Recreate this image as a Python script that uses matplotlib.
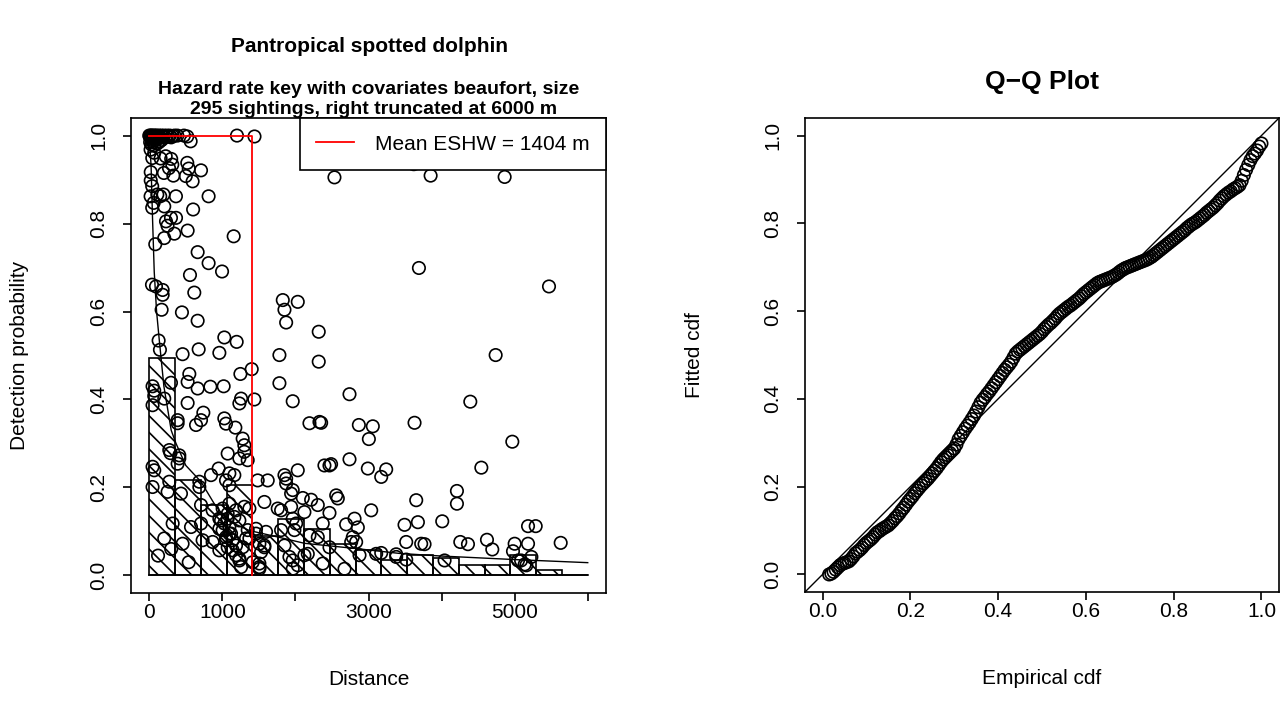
import matplotlib
matplotlib.use("Agg")
import matplotlib.pyplot as plt
import numpy as np

plt.rcParams["font.family"] = ["Liberation Sans", "DejaVu Sans"]
plt.rcParams["hatch.linewidth"] = 1.2

# ---- detection function panel -------------------------------------------
TRUNC = 6000
ESHW = 1404
N_SIGHT = 295

bin_edges = np.linspace(0, TRUNC, 18)
bin_height = [0.495, 0.216, 0.160, 0.205, 0.089, 0.128, 0.105, 0.071, 0.058,
              0.035, 0.047, 0.040, 0.023, 0.023, 0.046, 0.012, 0.0]

curve_dist = [0, 25, 45, 68, 100, 137, 200, 300, 366, 500, 708, 900, 1068,
              1370, 1767, 2123, 2832, 3425, 4000, 5000, 6000]
curve_prob = [1.0, 0.93, 0.81, 0.69, 0.60, 0.535, 0.43, 0.33, 0.30, 0.25, 0.213,
              0.16, 0.125, 0.102, 0.087, 0.073, 0.061, 0.05, 0.044, 0.036, 0.029]

dist_m = [
    # near the trackline, p ~ 1
    0, 8, 15, 22, 30, 38, 45, 55, 65, 75, 85, 95, 105, 120, 135, 150, 165, 180,
    200, 220, 240, 260, 280, 300, 320, 345, 384, 475, 520, 566, 1200, 1440,
    12, 28, 50, 70, 90, 110, 140, 170,
    18, 41, 20, 20, 40, 68, 155, 225, 300, 315, 270, 200, 330, 520, 540, 500,
    593, 708, 110, 150, 195, 365, 812, 18, 60, 40, 205, 600, 366, 297, 229, 250,
    525, 1155, 205, 343, 82, 662, 812, 996, 557,
    # mid range probabilities
    37, 92, 183, 183, 616, 169, 447, 662, 1027, 1196, 128, 146, 456, 676, 959,
    1402, 1247, 548, 525, 45, 68, 297, 662, 836, 1018, 68, 205, 45, 525, 1256,
    1233, 1438, 388, 388, 740, 708, 1027, 1050, 640, 1178,
    # low probabilities, short distances
    1278, 1301, 1301, 1233, 1347, 1073, 274, 290, 411, 45, 68, 949, 845, 1096,
    1164, 1050, 1096, 685, 685, 274, 45, 251, 434, 708, 867, 1004, 1096, 1073,
    1187, 1164, 1233, 1301, 1370, 320, 571, 708, 959, 1027, 1096, 959, 1119,
    1050, 1141, 1187, 1278, 1347, 1370, 205, 456, 730, 1233, 1256, 1415, 1507,
    411, 388, 1073, 1141, 1187, 1233, 1324, 982, 1073, 1004, 1096, 867, 959,
    1050, 120, 300, 540,
    # 1500 - 3000 m
    1781, 2319, 1781, 1963, 2740, 2192, 2329, 2352, 2868, 3059, 3005, 3630,
    2397, 2466, 2488, 2740, 2991, 3242, 3174, 2032, 1850, 1873, 1963, 1941,
    2101, 2215, 2306, 2558, 2580, 3653, 3037, 3493, 3676, 3516, 3721, 3767,
    2466, 1575, 1758, 1804, 1484, 1621, 1873, 1963, 2010, 2374, 2694, 2809,
    2854, 2785, 2763, 2831, 1461, 1598, 1575, 1507, 1986, 2192, 2306, 2466,
    1918, 1963, 2032, 1963, 2123, 2169, 2374, 2672, 2877, 3105, 3174, 3379,
    1507, 1507, 2123, 1941, 1804, 1850, 1461, 1575, 1530,
    # far field
    2534, 3850, 3620, 3690, 1827, 2032, 1850, 1873, 2319, 4863, 5470, 4740,
    4393, 4968, 4544, 4210, 4210, 4009, 5183, 5288, 4256, 4361, 4621, 4694,
    5000, 4977, 5183, 5630, 4041, 5046, 5137, 5229, 3379, 3516, 5088, 5160,
]
det_prob = [
    1.0, 0.998, 1.0, 0.995, 1.0, 0.99, 1.0, 0.997, 1.0, 0.993, 1.0, 0.996, 1.0,
    0.998, 1.0, 0.995, 1.0, 0.998, 1.0, 0.996, 1.0, 0.998, 1.0, 0.996, 0.999,
    1.0, 1.0, 1.0, 0.998, 0.987, 1.0, 0.998,
    0.985, 0.98, 0.985, 0.978, 0.99, 0.982, 0.986, 0.99,
    0.968, 0.949, 0.917, 0.898, 0.885, 0.961, 0.948, 0.953, 0.947, 0.934, 0.926,
    0.915, 0.909, 0.938, 0.925, 0.908, 0.896, 0.921, 0.866, 0.862, 0.866, 0.862,
    0.862, 0.862, 0.847, 0.836, 0.839, 0.832, 0.813, 0.813, 0.805, 0.795, 0.784,
    0.771, 0.767, 0.777, 0.753, 0.735, 0.71, 0.691, 0.683,
    0.661, 0.657, 0.649, 0.638, 0.643, 0.604, 0.598, 0.579, 0.541, 0.531, 0.534,
    0.513, 0.503, 0.514, 0.506, 0.469, 0.458, 0.458, 0.44, 0.43, 0.42, 0.438,
    0.425, 0.429, 0.43, 0.408, 0.402, 0.387, 0.392, 0.402, 0.391, 0.4, 0.353,
    0.346, 0.37, 0.353, 0.357, 0.345, 0.342, 0.336,
    0.311, 0.296, 0.281, 0.266, 0.262, 0.277, 0.285, 0.278, 0.266, 0.247, 0.239,
    0.243, 0.228, 0.232, 0.228, 0.216, 0.205, 0.213, 0.201, 0.213, 0.201, 0.19,
    0.186, 0.16, 0.148, 0.152, 0.163, 0.14, 0.148, 0.133, 0.125, 0.156, 0.152,
    0.118, 0.11, 0.118, 0.129, 0.118, 0.11, 0.106, 0.095, 0.087, 0.08, 0.068,
    0.064, 0.103, 0.084, 0.084, 0.072, 0.08, 0.038, 0.019, 0.03, 0.019,
    0.273, 0.254, 0.064, 0.057, 0.046, 0.034, 0.084, 0.125, 0.129, 0.103, 0.095,
    0.076, 0.057, 0.08, 0.045, 0.06, 0.03,
    0.501, 0.486, 0.437, 0.396, 0.412, 0.346, 0.349, 0.347, 0.342, 0.339, 0.31,
    0.347, 0.25, 0.25, 0.253, 0.264, 0.243, 0.241, 0.224, 0.239, 0.228, 0.22,
    0.194, 0.186, 0.176, 0.172, 0.16, 0.182, 0.175, 0.171, 0.148, 0.115, 0.121,
    0.076, 0.072, 0.071, 0.142, 0.167, 0.152, 0.148, 0.216, 0.216, 0.209, 0.129,
    0.118, 0.118, 0.116, 0.129, 0.109, 0.087, 0.076, 0.076, 0.106, 0.099, 0.064,
    0.072, 0.103, 0.091, 0.087, 0.064, 0.042, 0.034, 0.023, 0.015, 0.046, 0.049,
    0.027, 0.015, 0.046, 0.049, 0.051, 0.042, 0.027, 0.015, 0.144, 0.156, 0.103,
    0.068, 0.095, 0.068, 0.053,
    0.905, 0.909, 0.935, 0.699, 0.626, 0.622, 0.604, 0.575, 0.554, 0.906, 0.657,
    0.501, 0.395, 0.304, 0.245, 0.192, 0.163, 0.123, 0.112, 0.112, 0.076, 0.071,
    0.081, 0.059, 0.072, 0.055, 0.072, 0.074, 0.034, 0.034, 0.025, 0.042, 0.048,
    0.036, 0.034, 0.023,
]

# ---- Q-Q panel -----------------------------------------------------------
emp_cdf = [
    0.015, 0.020, 0.025, 0.030, 0.035, 0.040, 0.045, 0.050, 0.055, 0.060,
    0.065, 0.070, 0.075, 0.080, 0.085, 0.090, 0.095, 0.100, 0.105, 0.110,
    0.115, 0.120, 0.125, 0.130, 0.135, 0.140, 0.145, 0.150, 0.155, 0.160,
    0.165, 0.170, 0.175, 0.180, 0.185, 0.190, 0.195, 0.200, 0.205, 0.210,
    0.215, 0.220, 0.225, 0.230, 0.235, 0.240, 0.245, 0.250, 0.255, 0.260,
    0.265, 0.270, 0.275, 0.280, 0.285, 0.290, 0.295, 0.300, 0.305, 0.310,
    0.315, 0.320, 0.325, 0.330, 0.335, 0.340, 0.345, 0.350, 0.355, 0.360,
    0.365, 0.370, 0.375, 0.380, 0.385, 0.390, 0.395, 0.400, 0.405, 0.410,
    0.415, 0.420, 0.425, 0.430, 0.435, 0.440, 0.445, 0.450, 0.455, 0.460,
    0.465, 0.470, 0.475, 0.480, 0.485, 0.490, 0.495, 0.500, 0.505, 0.510,
    0.515, 0.520, 0.525, 0.530, 0.535, 0.540, 0.545, 0.550, 0.555, 0.560,
    0.565, 0.570, 0.575, 0.580, 0.585, 0.590, 0.595, 0.600, 0.605, 0.610,
    0.615, 0.620, 0.625, 0.630, 0.635, 0.640, 0.645, 0.650, 0.655, 0.660,
    0.665, 0.670, 0.675, 0.680, 0.685, 0.690, 0.695, 0.700, 0.705, 0.710,
    0.715, 0.720, 0.725, 0.730, 0.735, 0.740, 0.745, 0.750, 0.755, 0.760,
    0.765, 0.770, 0.775, 0.780, 0.785, 0.790, 0.795, 0.800, 0.805, 0.810,
    0.815, 0.820, 0.825, 0.830, 0.835, 0.840, 0.845, 0.850, 0.855, 0.860,
    0.865, 0.870, 0.875, 0.880, 0.885, 0.890, 0.895, 0.900, 0.905, 0.910,
    0.915, 0.920, 0.925, 0.930, 0.935, 0.940, 0.945, 0.950, 0.955, 0.960,
    0.965, 0.970, 0.975, 0.980, 0.985, 0.990, 0.995, 1.000,
]
fitted_cdf = [
    0.000, 0.002, 0.006, 0.011, 0.016, 0.021, 0.024, 0.026, 0.028, 0.030,
    0.035, 0.041, 0.048, 0.052, 0.056, 0.061, 0.067, 0.072, 0.076, 0.080,
    0.085, 0.091, 0.096, 0.099, 0.103, 0.106, 0.109, 0.112, 0.117, 0.122,
    0.128, 0.133, 0.139, 0.146, 0.152, 0.159, 0.166, 0.172, 0.178, 0.185,
    0.191, 0.197, 0.203, 0.208, 0.213, 0.218, 0.224, 0.230, 0.236, 0.242,
    0.249, 0.256, 0.262, 0.267, 0.272, 0.277, 0.282, 0.287, 0.296, 0.308,
    0.316, 0.324, 0.332, 0.339, 0.346, 0.354, 0.362, 0.371, 0.381, 0.391,
    0.398, 0.404, 0.411, 0.417, 0.424, 0.431, 0.438, 0.445, 0.452, 0.459,
    0.466, 0.472, 0.478, 0.485, 0.494, 0.503, 0.508, 0.512, 0.516, 0.520,
    0.524, 0.528, 0.532, 0.536, 0.540, 0.544, 0.548, 0.553, 0.559, 0.564,
    0.569, 0.573, 0.578, 0.583, 0.589, 0.594, 0.598, 0.602, 0.606, 0.610,
    0.613, 0.617, 0.621, 0.625, 0.629, 0.634, 0.639, 0.643, 0.647, 0.651,
    0.655, 0.659, 0.663, 0.666, 0.668, 0.670, 0.672, 0.674, 0.676, 0.678,
    0.681, 0.684, 0.688, 0.692, 0.695, 0.698, 0.700, 0.702, 0.704, 0.706,
    0.708, 0.710, 0.712, 0.714, 0.716, 0.718, 0.721, 0.724, 0.728, 0.732,
    0.736, 0.740, 0.744, 0.748, 0.752, 0.756, 0.760, 0.764, 0.768, 0.772,
    0.776, 0.780, 0.784, 0.789, 0.793, 0.797, 0.800, 0.803, 0.807, 0.811,
    0.815, 0.819, 0.824, 0.828, 0.832, 0.836, 0.841, 0.846, 0.852, 0.857,
    0.862, 0.866, 0.870, 0.873, 0.877, 0.880, 0.883, 0.887, 0.897, 0.910,
    0.922, 0.933, 0.944, 0.953, 0.959, 0.966, 0.975, 0.982,
]

FS = 15
MARK = dict(s=80, facecolors="none", edgecolors="black", linewidths=1.2)


def _style(ax):
    for sp in ax.spines.values():
        sp.set_linewidth(1.2)
    ax.tick_params(direction="out", length=5.5, width=1.2, labelsize=FS, pad=2)
    ax.tick_params(axis="y", pad=11)
    for lab in ax.get_yticklabels():
        lab.set_rotation(90)
        lab.set_va("center")


def px(x, y):
    return x / 1288, 1 - y / 719


fig = plt.figure(figsize=(12.88, 7.19), dpi=100)

# detection function
ax = fig.add_axes([131 / 1288, 1 - 593 / 719, 475 / 1288, 475 / 719])
ax.bar(bin_edges[:-1], bin_height, width=np.diff(bin_edges), align="edge",
       fill=False, hatch="\\\\", edgecolor="black", linewidth=1.2)
ax.plot([0, TRUNC], [0, 0], color="black", lw=1.2)
ax.plot(curve_dist, curve_prob, color="black", lw=1.0)
ax.scatter(dist_m, det_prob, **MARK)
ax.plot([0, ESHW, ESHW], [1, 1, 0], color="red", lw=1.3,
        label=f"Mean ESHW = {ESHW} m")
ax.set_xlim(-250, 6250)
ax.set_ylim(-0.04, 1.04)
ax.set_xticks(np.arange(0, 7000, 1000))
ax.set_xticklabels(["0", "1000", "", "3000", "", "5000", ""])
ax.set_yticks(np.arange(0, 1.01, 0.2))
ax.set_yticklabels([f"{v:.1f}" for v in np.arange(0, 1.01, 0.2)])
_style(ax)
leg = ax.legend(loc="upper right", fontsize=FS, borderaxespad=0, fancybox=False,
                framealpha=1, edgecolor="black", handlelength=1.8,
                borderpad=0.8, handletextpad=1.0)
leg.get_frame().set_linewidth(1.2)
leg.set_zorder(5)
ax.text(0.5, -0.182, "Distance", transform=ax.transAxes, ha="center",
        va="center", fontsize=FS)
ax.text(-0.234, 0.5, "Detection probability", transform=ax.transAxes,
        ha="center", va="center", rotation=90, fontsize=FS)

fig.text(*px(369, 47), "Pantropical spotted dolphin", ha="center", va="center",
         fontsize=15, fontweight="bold")
fig.text(*px(369, 89), "Hazard rate key with covariates beaufort, size",
         ha="center", va="center", fontsize=14, fontweight="bold")
fig.text(*px(374, 110), f"{N_SIGHT} sightings, right truncated at {TRUNC} m",
         ha="center", va="center", fontsize=14, fontweight="bold")

# Q-Q plot
ax2 = fig.add_axes([805 / 1288, 1 - 592 / 719, 474 / 1288, 474 / 719])
ax2.axline((0, 0), slope=1, color="black", lw=1.0)
ax2.scatter(emp_cdf, fitted_cdf, **MARK)
ax2.set_xlim(-0.04, 1.04)
ax2.set_ylim(-0.04, 1.04)
ticks = np.arange(0, 1.01, 0.2)
ax2.set_xticks(ticks)
ax2.set_xticklabels([f"{v:.1f}" for v in ticks])
ax2.set_yticks(ticks)
ax2.set_yticklabels([f"{v:.1f}" for v in ticks])
_style(ax2)
ax2.text(0.5, 1 + 36 / 474, "Q\u2212Q Plot", transform=ax2.transAxes,
         ha="center", va="center", fontsize=19, fontweight="bold")
ax2.text(0.5, -0.182, "Empirical cdf", transform=ax2.transAxes, ha="center",
         va="center", fontsize=FS)
ax2.text(-0.234, 0.5, "Fitted cdf", transform=ax2.transAxes, ha="center",
         va="center", rotation=90, fontsize=FS)

fig.savefig("out.png", dpi=100)
